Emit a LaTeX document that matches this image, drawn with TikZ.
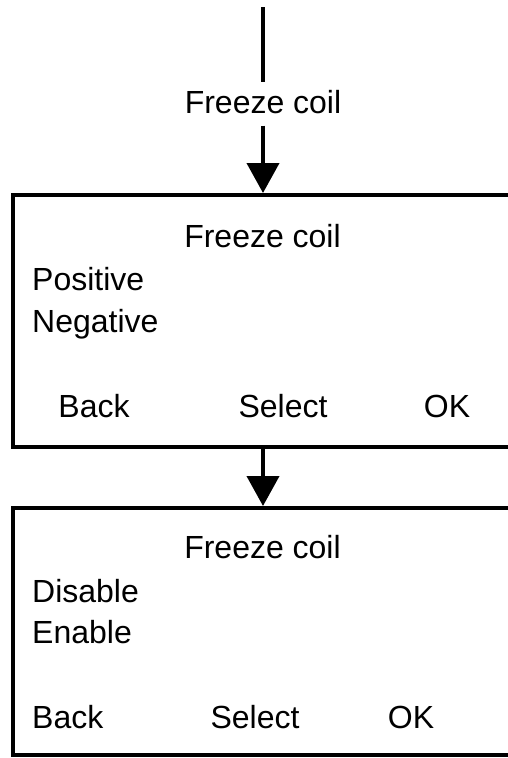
\documentclass[tikz,border=0pt]{standalone}
\usepackage{fontspec}
\setmainfont{Liberation Sans}
\usetikzlibrary{arrows.meta}
\begin{document}
\begin{tikzpicture}[x=1pt,y=-1pt,
  every node/.style={font=\fontsize{32}{38}\selectfont, text=black},
  txt/.style={inner sep=0pt},
  screen/.style={draw=black, line width=4pt, rectangle, inner sep=0pt, minimum width=496.5pt, fill=none},
  conn/.style={line width=4pt, draw=black},
  arr/.style={conn, -{Triangle[width=32pt,length=30pt]}}
]
\clip (0,0) rectangle (508,758);
\useasboundingbox (0,0) rectangle (508,758);
\fill[white] (0,0) rectangle (508,758);

% boxes
\node[screen, minimum height=252pt] (box1) at (261.25,321) {};
\node[screen, minimum height=247pt] (box2) at (261.25,631.5) {};

% top connector and label
\coordinate (start) at (263,7);
\node[txt, inner ysep=8pt, anchor=base] (lbl) at (263,113) {Freeze coil};
\draw[conn] (start) -- (lbl.north);
\draw[arr, shorten <=4pt] (lbl.south) -- (lbl.south |- box1.north);
\draw[arr] (lbl.south |- box1.south) -- (lbl.south |- box2.north);

% box 1 contents
\node[txt, anchor=base] (t1) at (262.5,247) {Freeze coil};
\node[txt, anchor=base west] (p1) at (32,290) {Positive};
\node[txt, anchor=base west] (n1) at (32,332) {Negative};
\node[txt, anchor=base] (b1) at (94,417) {Back};
\node[txt, anchor=base] (s1) at (283,417) {Select};
\node[txt, anchor=base] (o1) at (447,417) {OK};

% box 2 contents
\node[txt, anchor=base] (t2) at (262.5,558) {Freeze coil};
\node[txt, anchor=base west] (d2) at (32,602) {Disable};
\node[txt, anchor=base west] (e2) at (32,643) {Enable};
\node[txt, anchor=base west] (b2) at (32,728) {Back};
\node[txt, anchor=base] (s2) at (255,728) {Select};
\node[txt, anchor=base] (o2) at (411,728) {OK};
\end{tikzpicture}
\end{document}
